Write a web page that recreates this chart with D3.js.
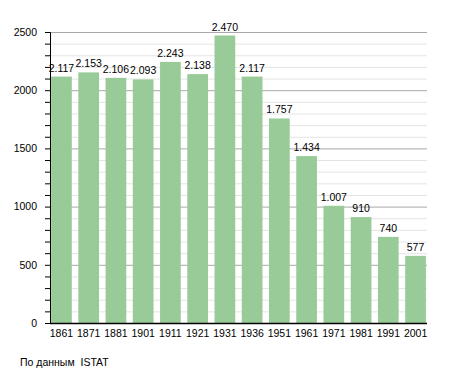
<!DOCTYPE html>
<html>
<head>
<meta charset="utf-8">
<script src="https://cdn.jsdelivr.net/npm/d3@7"></script>
<style>
  body { margin: 0; background: #fff; }
  svg text { font-family: "Liberation Sans", Arial, sans-serif; font-size: 10.5px; fill: #000; }
</style>
</head>
<body>
<div id="chart-area"></div>
<script>
const years = ["1861", "1871", "1881", "1901", "1911", "1921", "1931", "1936", "1951", "1961", "1971", "1981", "1991", "2001"]
const population = [2117, 2153, 2106, 2093, 2243, 2138, 2470, 2117, 1757, 1434, 1007, 910, 740, 577]
const yTicks = [0, 500, 1000, 1500, 2000, 2500]
const source = "По данным  ISTAT"

const MARGIN = { LEFT: 50, RIGHT: 28, TOP: 32, BOTTOM: 50 }
const WIDTH = 455 - MARGIN.LEFT - MARGIN.RIGHT
const HEIGHT = 373 - MARGIN.TOP - MARGIN.BOTTOM

const svg = d3.select("#chart-area").append("svg")
  .attr("width", 455)
  .attr("height", 373)

const g = svg.append("g")
  .attr("transform", `translate(${MARGIN.LEFT}, ${MARGIN.TOP})`)

const x = d3.scaleBand()
  .domain(years)
  .range([0, WIDTH])
  .paddingInner(0.24)
  .paddingOuter(0.04)

const y = d3.scaleLinear()
  .domain([0, 2500])
  .range([HEIGHT, 0])

// minor grid every 100
g.append("g").selectAll("line")
  .data(d3.range(100, 2500, 100).filter(v => v % 500 !== 0))
  .enter().append("line")
  .attr("x1", 0).attr("x2", WIDTH)
  .attr("y1", d => y(d) + 0.5).attr("y2", d => y(d) + 0.5)
  .attr("stroke", "#e4e4e4")

// major grid
g.append("g").selectAll("line")
  .data(yTicks.filter(v => v > 0))
  .enter().append("line")
  .attr("x1", 0).attr("x2", WIDTH)
  .attr("y1", d => y(d) + 0.5).attr("y2", d => y(d) + 0.5)
  .attr("stroke", "#a8a8a8")

// bars
g.selectAll("rect")
  .data(population)
  .enter().append("rect")
  .attr("x", (d, i) => x(years[i]))
  .attr("y", d => y(d))
  .attr("width", x.bandwidth())
  .attr("height", d => HEIGHT - y(d))
  .attr("fill", "#98cb98")

// value labels
const fmt = d3.formatLocale({ decimal: ",", thousands: ".", grouping: [3], currency: ["", ""] }).format(",")
g.selectAll(".val")
  .data(population)
  .enter().append("text")
  .attr("class", "val")
  .attr("x", (d, i) => x(years[i]) + x.bandwidth() / 2)
  .attr("y", d => y(d) - 5)
  .attr("text-anchor", "middle")
  .text(d => fmt(d))

// y axis with minor ticks
const yAxis = d3.axisLeft(y).tickValues(d3.range(0, 2501, 100)).tickSize(5)
  .tickFormat(d => yTicks.includes(d) ? d : "")
const yAxisGroup = g.append("g").call(yAxis)
yAxisGroup.select(".domain").attr("stroke", "#000")
yAxisGroup.selectAll(".tick line").attr("stroke", "#000")
yAxisGroup.selectAll(".tick text").attr("x", -13).style("font-size", "10.5px")
  .style("font-family", "Liberation Sans, Arial, sans-serif")

// x axis
const xAxis = d3.axisBottom(x).tickSize(0).tickPadding(7)
const xAxisGroup = g.append("g")
  .attr("transform", `translate(0, ${HEIGHT})`)
  .call(xAxis)
xAxisGroup.select(".domain").attr("stroke", "#000").attr("stroke-width", 1.5)
  .attr("d", `M0,0.5H${WIDTH}`)
xAxisGroup.selectAll(".tick text").style("font-size", "10.5px")
  .style("font-family", "Liberation Sans, Arial, sans-serif")

svg.append("text")
  .attr("x", 20)
  .attr("y", 366)
  .style("white-space", "pre")
  .text(source)
</script>
</body>
</html>
